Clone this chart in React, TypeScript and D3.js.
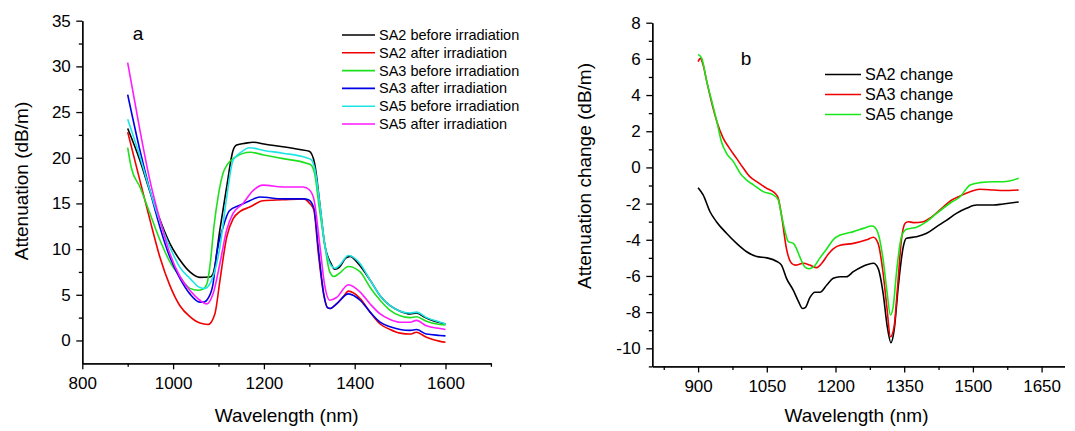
import { useEffect, useRef } from 'react';
import * as d3 from 'd3';

type Pt = [number, number];

// ---- panel a: attenuation spectra, [wavelength nm, dB/m] ----
const sa2Before: Pt[] = [
  [900, 23.2], [927, 19.7], [949, 16.3], [971, 13.2], [993, 10.6], [1015, 8.8], [1037, 7.5],
  [1059, 6.9], [1081, 6.95], [1088, 7.3], [1103, 12.1], [1118, 16.8], [1132, 20.8], [1140, 21.4],
  [1160, 21.6], [1176, 21.7], [1200, 21.5], [1242, 21.2], [1279, 20.9], [1300, 20.7], [1312, 19.3],
  [1323, 15.0], [1334, 10.5], [1348, 8.4], [1356, 7.8], [1366, 8.0], [1380, 9.0], [1390, 9.2],
  [1408, 8.4], [1434, 6.6], [1456, 4.9], [1478, 3.8], [1500, 3.2], [1522, 2.9], [1536, 3.0],
  [1552, 2.6], [1570, 2.2], [1600, 1.8],
];
const sa2After: Pt[] = [
  [900, 22.8], [927, 17.5], [949, 13.2], [971, 9.1], [993, 6.0], [1015, 3.8], [1037, 2.6],
  [1059, 1.9], [1077, 1.75], [1092, 2.9], [1103, 6.5], [1118, 11.3], [1132, 13.3], [1147, 14.1],
  [1169, 14.6], [1198, 15.3], [1242, 15.4], [1287, 15.5], [1301, 15.0], [1310, 14.3], [1320, 9.5],
  [1332, 5.0], [1340, 3.6], [1346, 3.5], [1360, 4.0], [1375, 4.8], [1386, 5.4], [1412, 4.6],
  [1434, 3.1], [1456, 1.8], [1478, 1.2], [1500, 0.8], [1522, 0.7], [1536, 0.9], [1558, 0.35],
  [1588, -0.1], [1600, -0.2],
];
const sa3Before: Pt[] = [
  [900, 21.1], [908, 18.9], [927, 16.8], [949, 13.9], [971, 11.0], [993, 8.6], [1015, 7.0],
  [1037, 5.7], [1055, 5.5], [1065, 5.6], [1075, 6.3], [1082, 8.5], [1090, 12.5], [1100, 16.0],
  [1110, 18.3], [1120, 19.3], [1135, 20.0], [1170, 20.6], [1200, 20.3], [1242, 19.9], [1294, 19.4],
  [1304, 19.2], [1312, 18.2], [1322, 14.5], [1334, 10.5], [1345, 7.5], [1354, 7.0], [1365, 7.3],
  [1386, 8.1], [1412, 7.5], [1434, 5.8], [1456, 4.4], [1478, 3.3], [1500, 2.7], [1522, 2.5],
  [1536, 2.6], [1558, 2.1], [1588, 1.75], [1600, 1.7],
];
const sa3After: Pt[] = [
  [900, 26.9], [927, 20.8], [949, 16.4], [971, 12.4], [993, 9.1], [1015, 6.8], [1037, 5.1],
  [1059, 4.2], [1068, 4.2], [1077, 4.6], [1088, 6.2], [1096, 9.5], [1110, 12.4], [1124, 14.2],
  [1147, 14.8], [1169, 15.3], [1191, 15.7], [1242, 15.5], [1287, 15.5], [1298, 15.4], [1310, 14.5],
  [1320, 10.0], [1332, 5.0], [1340, 3.6], [1346, 3.5], [1360, 4.0], [1386, 5.1], [1412, 4.4],
  [1434, 3.1], [1456, 2.0], [1478, 1.5], [1500, 1.2], [1522, 1.1], [1536, 1.2], [1558, 0.7],
  [1588, 0.55], [1600, 0.5],
];
const sa5Before: Pt[] = [
  [900, 24.2], [927, 20.1], [949, 16.4], [971, 13.0], [993, 10.2], [1015, 8.0], [1037, 6.8],
  [1059, 5.8], [1070, 5.7], [1081, 6.2], [1088, 7.0], [1103, 10.2], [1118, 15.7], [1132, 19.7],
  [1147, 20.5], [1169, 21.1], [1200, 20.8], [1242, 20.5], [1294, 20.0], [1304, 19.8], [1312, 18.8],
  [1323, 15.0], [1334, 10.5], [1348, 8.2], [1356, 7.9], [1366, 8.2], [1386, 9.3], [1412, 8.4],
  [1434, 6.6], [1456, 4.9], [1478, 3.8], [1500, 3.2], [1522, 3.0], [1536, 3.1], [1558, 2.5],
  [1588, 2.0], [1600, 1.8],
];
const sa5After: Pt[] = [
  [900, 30.4], [927, 23.0], [949, 17.5], [971, 13.2], [993, 9.5], [1015, 7.0], [1037, 5.5],
  [1059, 4.4], [1074, 4.0], [1088, 5.1], [1103, 8.4], [1118, 12.1], [1132, 13.9], [1154, 15.0],
  [1176, 16.4], [1198, 17.0], [1242, 16.8], [1287, 16.8], [1300, 16.5], [1310, 15.5], [1323, 10.5],
  [1334, 6.0], [1345, 4.4], [1360, 4.7], [1386, 6.1], [1412, 5.3], [1434, 4.0], [1456, 2.9],
  [1478, 2.3], [1500, 2.0], [1522, 2.0], [1536, 2.2], [1558, 1.6], [1588, 1.3], [1600, 1.2],
];
const legendA = [
  'SA2 before irradiation', 'SA2 after irradiation', 'SA3 before irradiation',
  'SA3 after irradiation', 'SA5 before irradiation', 'SA5 after irradiation',
];
const coloursA = ['#000000', '#f00000', '#1fe01f', '#0000e6', '#1de5e5', '#ff1aff'];

// ---- panel b: attenuation change ----
const sa2Change: Pt[] = [
  [900, -1.12], [911, -1.52], [926, -2.45], [940, -3.0], [962, -3.64], [984, -4.2], [1006, -4.66],
  [1028, -4.93], [1050, -5.0], [1072, -5.2], [1082, -5.4], [1093, -6.13], [1108, -6.8], [1119, -7.4],
  [1128, -7.8], [1134, -7.75], [1144, -7.2], [1155, -6.9], [1166, -6.9], [1181, -6.5], [1195, -6.13],
  [1210, -6.04], [1224, -6.04], [1239, -5.76], [1257, -5.5], [1283, -5.3], [1293, -5.58],
  [1304, -6.96], [1313, -8.8], [1321, -9.69], [1328, -8.99], [1337, -6.59], [1348, -4.38],
  [1355, -3.92], [1377, -3.83], [1399, -3.64], [1421, -3.27], [1443, -2.91], [1464, -2.54],
  [1486, -2.26], [1508, -2.08], [1545, -2.08], [1566, -2.02], [1600, -1.91],
];
const sa3Change: Pt[] = [
  [900, 5.85], [905, 6.03], [911, 5.66], [919, 4.74], [930, 3.54], [941, 2.53], [955, 1.61],
  [966, 1.15], [984, 0.5], [999, -0.05], [1013, -0.51], [1028, -0.79], [1050, -1.16], [1068, -1.43],
  [1075, -1.71], [1082, -2.63], [1093, -4.5], [1104, -5.3], [1112, -5.4], [1130, -5.3], [1144, -5.4],
  [1159, -5.54], [1170, -5.3], [1184, -4.8], [1195, -4.5], [1210, -4.3], [1239, -4.2], [1268, -4.0],
  [1283, -3.86], [1293, -4.2], [1304, -5.85], [1312, -7.7], [1320, -9.36], [1328, -8.8],
  [1335, -6.78], [1344, -4.0], [1352, -3.09], [1359, -3.0], [1370, -3.05], [1392, -3.0],
  [1406, -2.81], [1428, -2.35], [1454, -1.8], [1472, -1.58], [1494, -1.34], [1515, -1.21],
  [1545, -1.25], [1566, -1.28], [1600, -1.25],
];
const sa5Change: Pt[] = [
  [900, 6.25], [908, 6.03], [919, 4.74], [930, 3.64], [941, 2.53], [951, 1.42], [962, 0.78],
  [977, 0.32], [992, -0.33], [1006, -0.7], [1021, -0.97], [1042, -1.34], [1064, -1.52], [1075, -1.8],
  [1082, -2.63], [1090, -3.55], [1097, -4.1], [1108, -4.2], [1115, -4.5], [1123, -5.0], [1133, -5.5],
  [1141, -5.6], [1152, -5.5], [1166, -5.0], [1181, -4.5], [1195, -4.0], [1210, -3.74], [1224, -3.64],
  [1239, -3.55], [1261, -3.37], [1279, -3.24], [1286, -3.31], [1293, -3.64], [1304, -5.1],
  [1312, -6.78], [1320, -8.16], [1326, -7.7], [1333, -5.85], [1344, -3.83], [1355, -3.42],
  [1377, -3.31], [1399, -3.0], [1421, -2.54], [1450, -1.98], [1472, -1.62], [1494, -0.97],
  [1515, -0.84], [1545, -0.79], [1566, -0.79], [1600, -0.6],
];
const legendB = ['SA2 change', 'SA3 change', 'SA5 change'];
const coloursB = ['#000000', '#f00000', '#19e619'];

const FONT = 'Arial, "Liberation Sans", sans-serif';

interface Panel {
  left: number; right: number; top: number; bottom: number;
  xDomain: [number, number]; yDomain: [number, number];
  xMajor: number[]; xMinor: number[]; yMajor: number[]; yMinor: number[];
  series: Pt[][]; colours: string[]; legend: string[];
  legendX: number; legendY: number; legendStep: number; legendFont: number; legendLine: number;
  tag: string; tagX: number; tagY: number;
  yTitle: string; yTitleX: number; yTitleY: number; xTitleX: number; xTitleY: number;
}

function drawPanel(svg: d3.Selection<SVGSVGElement, unknown, null, undefined>, p: Panel) {
  const x = d3.scaleLinear().domain(p.xDomain).range([p.left, p.right]);
  const y = d3.scaleLinear().domain(p.yDomain).range([p.bottom, p.top]);
  const g = svg.append('g');

  const styleAxis = (ax: d3.Selection<SVGGElement, unknown, null, undefined>) => {
    ax.attr('font-family', FONT).attr('font-size', 17);
    ax.selectAll('path,line').attr('stroke', '#000').attr('stroke-width', 1.3);
  };

  // minor ticks first, then major ticks with labels
  g.append('g').attr('transform', `translate(0,${p.bottom})`)
    .call(d3.axisBottom(x).tickValues(p.xMinor).tickSize(3.5).tickSizeOuter(0).tickFormat(() => ''))
    .call(styleAxis);
  g.append('g').attr('transform', `translate(0,${p.bottom})`)
    .call(d3.axisBottom(x).tickValues(p.xMajor).tickSize(6).tickSizeOuter(0).tickPadding(8).tickFormat(d3.format('d')))
    .call(styleAxis);
  g.append('g').attr('transform', `translate(${p.left},0)`)
    .call(d3.axisLeft(y).tickValues(p.yMinor).tickSize(3.5).tickSizeOuter(0).tickFormat(() => ''))
    .call(styleAxis);
  g.append('g').attr('transform', `translate(${p.left},0)`)
    .call(d3.axisLeft(y).tickValues(p.yMajor).tickSize(6).tickSizeOuter(0).tickPadding(5.5)
      .tickFormat((d) => String(d).replace('-', '-')))
    .call(styleAxis);

  const line = d3.line<Pt>().x((d) => x(d[0])).y((d) => y(d[1])).curve(d3.curveMonotoneX);
  p.series.forEach((s, i) => {
    g.append('path').datum(s).attr('d', line).attr('fill', 'none')
      .attr('stroke', p.colours[i]).attr('stroke-width', 1.6);
  });

  // legend
  p.legend.forEach((name, i) => {
    const ly = p.legendY + i * p.legendStep;
    g.append('line').attr('x1', p.legendX).attr('x2', p.legendX + p.legendLine)
      .attr('y1', ly).attr('y2', ly).attr('stroke', p.colours[i]).attr('stroke-width', 1.6);
    g.append('text').attr('x', p.legendX + p.legendLine + 4).attr('y', ly).attr('dy', '0.35em')
      .attr('font-family', FONT).attr('font-size', p.legendFont).text(name);
  });

  g.append('text').attr('x', p.tagX).attr('y', p.tagY).attr('dy', '0.35em').attr('text-anchor', 'middle')
    .attr('font-family', FONT).attr('font-size', 19).text(p.tag);

  g.append('text').attr('transform', `translate(${p.yTitleX},${p.yTitleY}) rotate(-90)`)
    .attr('text-anchor', 'middle').attr('dy', '0.35em')
    .attr('font-family', FONT).attr('font-size', 19).text(p.yTitle);
  g.append('text').attr('x', p.xTitleX).attr('y', p.xTitleY).attr('dy', '0.35em')
    .attr('text-anchor', 'middle').attr('font-family', FONT).attr('font-size', 19).text('Wavelength (nm)');
}

export default function App() {
  const ref = useRef<SVGSVGElement>(null);

  useEffect(() => {
    if (!ref.current) return;
    const svg = d3.select(ref.current);
    svg.selectAll('*').remove();

    drawPanel(svg, {
      left: 82.3, right: 490.9, top: 20.7, bottom: 363.3,
      xDomain: [800, 1700], yDomain: [-2.5, 35],
      xMajor: [800, 1000, 1200, 1400, 1600], xMinor: [900, 1100, 1300, 1500, 1700],
      yMajor: d3.range(0, 36, 5), yMinor: d3.range(2.5, 35, 5),
      series: [sa2Before, sa2After, sa3Before, sa3After, sa5Before, sa5After],
      colours: coloursA, legend: legendA,
      legendX: 342, legendY: 35, legendStep: 17.8, legendFont: 14.5, legendLine: 33,
      tag: 'a', tagX: 138, tagY: 33,
      yTitle: 'Attenuation (dB/m)', yTitleX: 21.4, yTitleY: 181,
      xTitleX: 286.7, xTitleY: 415,
    });

    drawPanel(svg, {
      left: 652.3, right: 1064.5, top: 22.7, bottom: 366.4,
      xDomain: [800, 1700], yDomain: [-11, 8],
      xMajor: [900, 1050, 1200, 1350, 1500, 1650], xMinor: [825, 975, 1125, 1275, 1425, 1575],
      yMajor: d3.range(-10, 9, 2), yMinor: d3.range(-11, 8, 2),
      series: [sa2Change, sa3Change, sa5Change],
      colours: coloursB, legend: legendB,
      legendX: 825, legendY: 74.5, legendStep: 20, legendFont: 16.2, legendLine: 36,
      tag: 'b', tagX: 746, tagY: 58,
      yTitle: 'Attenuation change (dB/m)', yTitleX: 584.5, yTitleY: 176,
      xTitleX: 856.5, xTitleY: 415,
    });
  }, []);

  return (
    <svg
      ref={ref}
      width={1075}
      height={431}
      style={{ position: 'absolute', left: 0, top: 0, background: '#fff' }}
    />
  );
}
